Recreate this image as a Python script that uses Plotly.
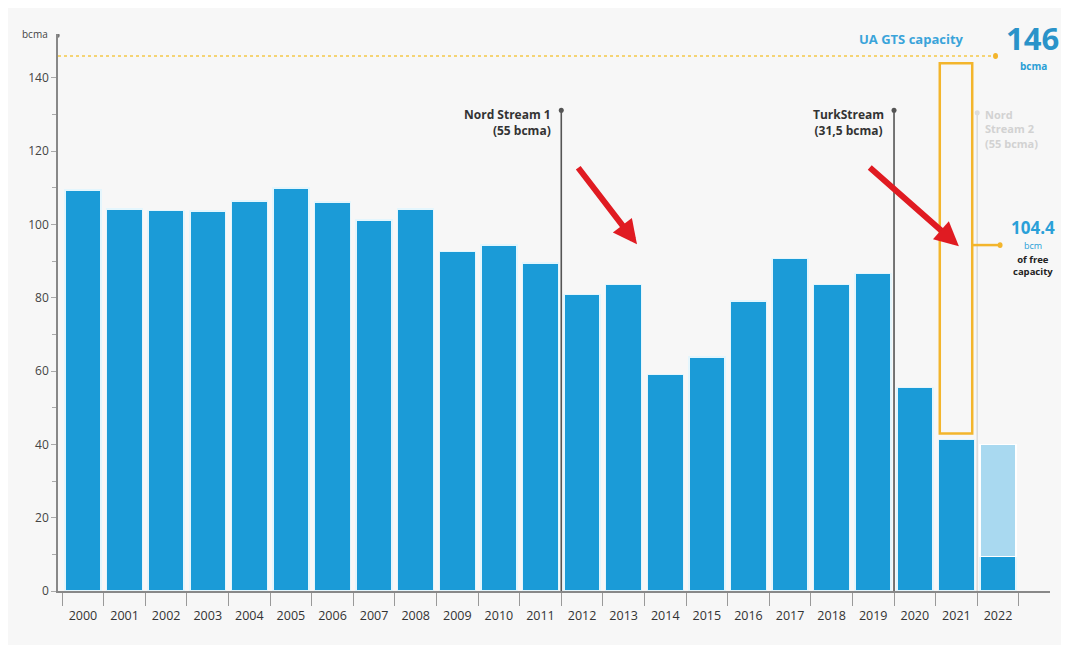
import plotly.graph_objects as go

years = ["2000", "2001", "2002", "2003", "2004", "2005", "2006", "2007", "2008", "2009", "2010", "2011",
         "2012", "2013", "2014", "2015", "2016", "2017", "2018", "2019", "2020", "2021", "2022"]
transit_bcma = [109.4, 104.3, 103.8, 103.7, 106.4, 110.0, 106.2, 101.2, 104.3, 92.7, 94.4, 89.5,
                80.9, 83.6, 59.1, 63.9, 79.1, 90.7, 83.6, 86.6, 55.5, 41.4, 9.4]
forecast_years = ["2022"]
forecast_extra = [30.6]

gts_capacity = 146
free_capacity = 104.4
pipelines = ["Nord Stream 1", "TurkStream", "Nord Stream 2"]
pipeline_caps = ["55 bcma", "31,5 bcma", "55 bcma"]
pipeline_pos = [11.5, 19.5, 21.5]

BLUE = "#1b9bd7"
LIGHT = "#a9d9f0"
ORANGE = "#f3b52c"
FONT = "Open Sans"

fig = go.Figure()
fig.add_trace(go.Bar(x=years, y=transit_bcma, marker=dict(color=BLUE, line=dict(color="#e4f6fd", width=1.5)),
                     hoverinfo="x+y", showlegend=False))
fig.add_trace(go.Bar(x=forecast_years, y=forecast_extra, marker=dict(color=LIGHT, line=dict(color="#ffffff", width=1.5)),
                     showlegend=False))

shapes = []
annotations = []

# capacity dashed line
shapes.append(dict(type="line", xref="x", yref="y", x0=-0.6, x1=21.93, y0=gts_capacity, y1=gts_capacity,
                   line=dict(color="#f5c94a", width=1.5, dash="dot")))
shapes.append(dict(type="circle", xref="x", yref="y", x0=21.88, x1=22.0, y0=gts_capacity - 0.8, y1=gts_capacity + 0.8,
                   fillcolor=ORANGE, line=dict(width=0)))

# pipeline lines
line_colors = ["#555555", "#555555", "#dcdcdc"]
tops = [131.2, 131.2, 130.5]
for p, c, t in zip(pipeline_pos, line_colors, tops):
    shapes.append(dict(type="line", xref="x", yref="y", x0=p, x1=p, y0=0, y1=t,
                       line=dict(color=c, width=1.6)))
    shapes.append(dict(type="circle", xref="x", yref="y", x0=p - 0.06, x1=p + 0.06, y0=t - 0.7, y1=t + 0.7,
                       fillcolor=c, line=dict(width=0)))

# free capacity box
shapes.append(dict(type="rect", xref="x", yref="y", x0=20.6, x1=21.38, y0=43.0, y1=144.0,
                   line=dict(color=ORANGE, width=2.5), fillcolor="rgba(0,0,0,0)"))
shapes.append(dict(type="line", xref="x", yref="y", x0=21.38, x1=22.05, y0=94.4, y1=94.4,
                   line=dict(color=ORANGE, width=2.5)))
shapes.append(dict(type="circle", xref="x", yref="y", x0=21.99, x1=22.11, y0=93.6, y1=95.2,
                   fillcolor=ORANGE, line=dict(width=0)))

# Pipeline labels
annotations.append(dict(x=11.3, y=133.0, xref="x", yref="y", xanchor="right", yanchor="top", align="right",
                        text="<b>%s</b><br><b>(%s)</b>" % (pipelines[0], pipeline_caps[0]), showarrow=False,
                        font=dict(family=FONT, size=12, color="#333333")))
annotations.append(dict(x=19.3, y=133.0, xref="x", yref="y", xanchor="right", yanchor="top", align="center",
                        text="<b>%s</b><br><b>(%s)</b>" % (pipelines[1], pipeline_caps[1]), showarrow=False,
                        font=dict(family=FONT, size=12, color="#333333")))
annotations.append(dict(x=21.65, y=132.5, xref="x", yref="y", xanchor="left", yanchor="top", align="left",
                        text="<b>Nord</b><br><b>Stream 2</b><br><b>(%s)</b>" % pipeline_caps[2], showarrow=False,
                        font=dict(family=FONT, size=11, color="#d2d2d2")))

# capacity labels
annotations.append(dict(x=19.93, y=150.6, xref="x", yref="y", xanchor="center", yanchor="middle",
                        text="<b>UA GTS capacity</b>", showarrow=False,
                        font=dict(family=FONT, size=13, color="#3aa4da")))
annotations.append(dict(x=22.83, y=150.8, xref="x", yref="y", xanchor="center", yanchor="middle",
                        text="<b>%d</b>" % gts_capacity, showarrow=False,
                        font=dict(family=FONT, size=31, color="#2a93c9")))
annotations.append(dict(x=22.85, y=143.3, xref="x", yref="y", xanchor="center", yanchor="middle",
                        text="<b>bcma</b>", showarrow=False,
                        font=dict(family=FONT, size=10, color="#2a9fd6")))
annotations.append(dict(x=22.85, y=99.3, xref="x", yref="y", xanchor="center", yanchor="middle",
                        text="<b>%.1f</b>" % free_capacity, showarrow=False,
                        font=dict(family=FONT, size=17, color="#2aa0d8")))
annotations.append(dict(x=22.85, y=94.4, xref="x", yref="y", xanchor="center", yanchor="middle",
                        text="bcm", showarrow=False,
                        font=dict(family=FONT, size=9, color="#2aa0d8")))
annotations.append(dict(x=22.85, y=88.8, xref="x", yref="y", xanchor="center", yanchor="middle",
                        text="<b>of free</b><br><b>capacity</b>", showarrow=False,
                        font=dict(family=FONT, size=9.5, color="#222222")))

# red arrows
for (x0, y0, x1, y1) in [(11.88, 115.9, 13.32, 94.6), (18.88, 115.9, 21.06, 94.1)]:
    annotations.append(dict(x=x1, y=y1, ax=x0, ay=y0, xref="x", yref="y", axref="x", ayref="y",
                            showarrow=True, arrowhead=2, arrowsize=0.8, arrowwidth=6,
                            arrowcolor="#e01b22", text=""))

# axis arrows and unit label
annotations.append(dict(x=23.3, y=0, ax=-12, ay=0, xref="x", yref="y", showarrow=True, arrowhead=2,
                        arrowsize=1, arrowwidth=1.5, arrowcolor="#888888", text=""))
annotations.append(dict(x=0, y=1, xref="paper", yref="paper", xanchor="right", yanchor="middle", xshift=-8,
                        text="bcma", showarrow=False, font=dict(family=FONT, size=10, color="#444444")))
shapes.append(dict(type="circle", xref="x", yref="y", x0=-0.64, x1=-0.56, y0=151.0, y1=152.2,
                   fillcolor="#777777", line=dict(width=0)))

fig.update_layout(
    width=1061, height=637,
    margin=dict(l=50, r=19, t=26, b=54),
    paper_bgcolor="#f7f7f7", plot_bgcolor="#f7f7f7",
    barmode="stack", bargap=0.135,
    font=dict(family=FONT, color="#444444"),
    shapes=shapes, annotations=annotations,
    xaxis=dict(type="category", range=[-0.6, 23.25], tickson="boundaries", ticks="outside", ticklen=13,
               tickcolor="#999999", showline=True, linecolor="#888888", linewidth=1.5, showgrid=False,
               ticklabelstandoff=12,
               tickfont=dict(family=FONT, size=12.5, color="#333333")),
    yaxis=dict(range=[0, 152], tickvals=[0, 20, 40, 60, 80, 100, 120, 140], ticks="outside", ticklen=5,
               tickcolor="#aaaaaa", showline=True, linecolor="#888888", linewidth=1.5, showgrid=False,
               zeroline=False, tickfont=dict(family=FONT, size=12, color="#444444"),
               minor=dict(tickvals=[10, 30, 50, 70, 90, 110, 130], ticks="outside", ticklen=4, tickcolor="#aaaaaa")),
)

fig.write_html("out.html")
